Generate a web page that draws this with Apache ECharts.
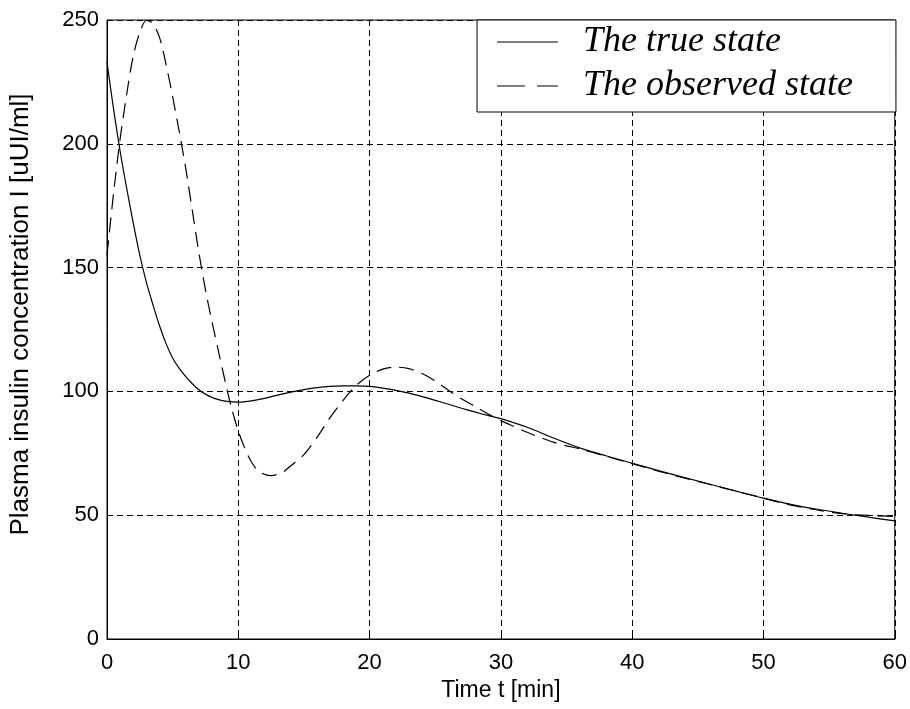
<!DOCTYPE html>
<html>
<head>
<meta charset="utf-8">
<script src="https://cdn.jsdelivr.net/npm/echarts@6/dist/echarts.min.js"></script>
<style>
  html, body { margin: 0; padding: 0; background: #fff; }
  #chart { width: 910px; height: 709px; }
</style>
</head>
<body>
<div id="chart"></div>
<script>
// time [min] and plasma insulin [uUI/ml]
const trueT = [0, 0.5, 1, 1.5, 2, 2.5, 3, 3.5, 4, 4.5, 5, 5.5, 6, 6.5, 7, 7.5, 8, 8.5, 9, 10, 11, 12, 13, 14, 15, 16, 17, 18, 19, 20,
  21, 22, 23, 24, 25, 26, 27, 28, 29, 30, 32, 34, 36, 38, 40, 42, 44, 46, 48, 50, 52, 54, 56, 58, 60]
const trueI = [233, 214, 197, 182, 168, 155, 144, 135, 126.5, 119.3, 113.5, 109.3, 106, 103.1, 100.7, 98.9, 97.6, 96.7, 96.1, 95.7, 96.2, 97.2, 98.5, 99.7, 100.7, 101.5, 102, 102.2, 102.2, 102,
  101.3, 100.4, 99.3, 97.9, 96.4, 94.8, 93.2, 91.7, 90.3, 89, 85.5, 81.2, 77.2, 74, 71, 68, 65.2, 62.4, 59.6, 56.9, 54.5, 52.5, 50.8, 49.2, 47.7]

const obsT = [0, 0.5, 1, 1.5, 2, 2.5, 3, 3.5, 4, 4.5, 5, 5.5, 6, 6.5, 7, 7.5, 8, 8.5, 9, 9.5, 10, 10.5, 11, 11.5, 12, 12.5, 13, 13.5, 14,
  15, 16, 17, 18, 19, 20, 21, 22, 23, 24, 25, 26, 27, 28, 29, 30, 31, 32, 33, 34, 35, 36, 38, 40, 42, 44, 46, 48, 50, 52, 54, 56, 58, 60]
const obsI = [155, 180, 202, 220, 235.5, 245, 249.8, 248.5, 243, 232, 219, 205, 190, 173, 156, 141, 128, 116, 104, 93, 84, 77, 71.5, 68, 66.5, 66, 66.5, 67.8, 70,
  74.5, 81.5, 89.5, 96.5, 102.5, 106.5, 109, 109.8, 109.2, 107.2, 104.2, 100.5, 97, 94, 91, 88.2, 85.8, 83.5, 81.4, 79.5, 78, 76.8, 73.8, 70.8, 67.8, 65, 62.3, 59.6, 56.9, 54.2, 52.2, 50.6, 49.9, 49.5]

const xTicks = [0, 10, 20, 30, 40, 50, 60]
const yTicks = [0, 50, 100, 150, 200, 250]

const seriesNames = ['The true state', 'The observed state']

const pairs = (t, v) => t.map((x, i) => [x, v[i]])

const chart = echarts.init(document.getElementById('chart'))

const gridLine = { show: true, lineStyle: { color: '#000', type: [6, 4], width: 1 } }
const labelFont = { color: '#000', fontFamily: 'Liberation Sans', fontSize: 22 }

chart.setOption({
  animation: false,
  backgroundColor: '#fff',
  color: ['#000', '#000'],
  grid: {
    left: 105, right: 15, top: 20, bottom: 70,
    show: true, borderColor: '#000', borderWidth: 1
  },
  legend: {
    orient: 'vertical',
    left: 477,
    top: 20,
    padding: [4, 43, 8, 20],
    itemGap: 8,
    itemWidth: 61,
    itemHeight: 1.2,
    symbolKeepAspect: false,
    backgroundColor: '#fff',
    borderColor: '#000',
    borderWidth: 1,
    borderRadius: 0,
    data: [
      // legend samples: a solid stroke and two dashes
      { name: seriesNames[0], icon: 'rect', itemStyle: { color: '#000' } },
      { name: seriesNames[1], icon: 'path://M0,0h28v2h-28zM40,0h21v2h-21z', itemStyle: { color: '#000' } }
    ],
    textStyle: {
      color: '#000',
      fontFamily: 'Liberation Serif',
      fontStyle: 'italic',
      fontSize: 36,
      lineHeight: 36,
      padding: [0, 0, 0, 20]
    }
  },
  xAxis: {
    type: 'value',
    min: xTicks[0],
    max: xTicks[xTicks.length - 1],
    interval: 10,
    name: 'Time t [min]',
    nameLocation: 'middle',
    nameGap: 40,
    nameTextStyle: { ...labelFont, fontSize: 23 },
    axisLine: { show: true, lineStyle: { color: '#000', width: 1 } },
    axisTick: { show: true, inside: true, length: 6, lineStyle: { color: '#000' } },
    axisLabel: { ...labelFont, margin: 13 },
    splitLine: gridLine
  },
  yAxis: {
    type: 'value',
    min: yTicks[0],
    max: yTicks[yTicks.length - 1],
    interval: 50,
    name: 'Plasma insulin concentration I [uUI/ml]',
    nameLocation: 'middle',
    nameGap: 73,
    nameTextStyle: { ...labelFont, fontSize: 26, padding: [0, 0, 0, 30] },
    axisLine: { show: true, lineStyle: { color: '#000', width: 1 } },
    axisTick: { show: true, inside: true, length: 6, lineStyle: { color: '#000' } },
    axisLabel: { ...labelFont, margin: 8 },
    splitLine: gridLine
  },
  series: [
    {
      name: seriesNames[0],
      type: 'line',
      data: pairs(trueT, trueI),
      smooth: 0.3,
      showSymbol: false,
      symbol: 'none',
      lineStyle: { color: '#000', width: 1.2, type: 'solid' },
      z: 3
    },
    {
      name: seriesNames[1],
      type: 'line',
      data: pairs(obsT, obsI),
      smooth: 0.3,
      showSymbol: false,
      symbol: 'none',
      lineStyle: { color: '#000', width: 1.2, type: [15, 8] },
      z: 3
    }
  ]
})
</script>
</body>
</html>
